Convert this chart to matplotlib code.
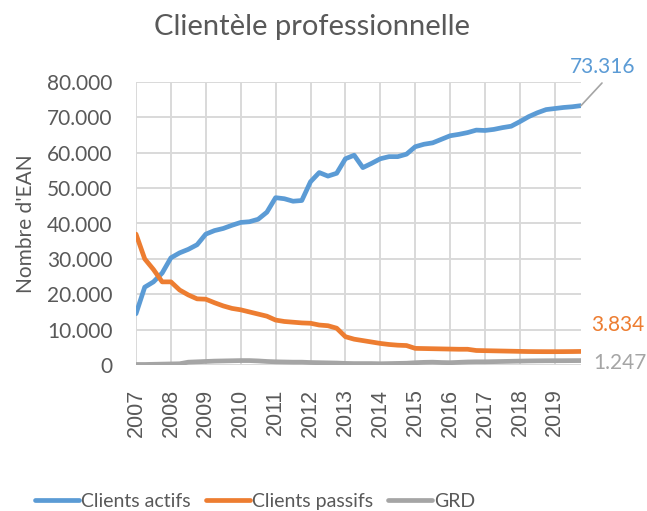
import matplotlib
matplotlib.use("Agg")
import matplotlib.pyplot as plt
from matplotlib.ticker import FuncFormatter

# quarterly values, 2007 Q1 -> 2019 Q4
years = list(range(2007, 2020))

clients_actifs = [
    14500, 22000, 23500, 26000, 30300, 31700, 32700, 34000,
    37000, 38000, 38600, 39500, 40300, 40500, 41200, 43200,
    47300, 47000, 46300, 46500, 51800, 54400, 53400, 54200,
    58300, 59300, 55800, 57000, 58300, 58900, 58900, 59600,
    61700, 62400, 62800, 63800, 64800, 65200, 65700, 66400,
    66300, 66600, 67100, 67500, 68800, 70200, 71300, 72200,
    72500, 72800, 73000, 73316,
]

clients_passifs = [
    37000, 30000, 27000, 23500, 23500, 21200, 19800, 18700,
    18600, 17600, 16700, 16000, 15600, 15000, 14400, 13800,
    12700, 12300, 12100, 11900, 11800, 11300, 11100, 10400,
    8000, 7300, 6900, 6500, 6100, 5800, 5600, 5500,
    4700, 4650, 4600, 4550, 4500, 4450, 4450, 4100,
    4050, 4000, 3950, 3900, 3850, 3800, 3780, 3770,
    3770, 3780, 3800, 3834,
]

grd = [
    150, 150, 200, 250, 300, 350, 800, 900,
    1000, 1100, 1150, 1200, 1250, 1250, 1150, 1000,
    900, 850, 800, 800, 700, 650, 600, 550,
    450, 400, 400, 400, 350, 400, 450, 500,
    650, 750, 800, 700, 650, 750, 850, 900,
    900, 950, 1000, 1050, 1100, 1150, 1180, 1200,
    1210, 1220, 1235, 1247,
]

BLUE = "#5B9BD5"
ORANGE = "#ED7D31"
GREY = "#A5A5A5"
TXT = "#595959"

plt.rcParams["font.family"] = ["Lato", "DejaVu Sans"]

fig = plt.figure(figsize=(6.47, 5.11), dpi=100)
ax = fig.add_axes([136 / 647, 1 - 365 / 511, (581 - 136) / 647, (365 - 82) / 511])

x = list(range(len(clients_actifs)))
lw = 3.4
ax.plot(x, clients_actifs, color=BLUE, lw=lw, solid_capstyle="round", label="Clients actifs")
ax.plot(x, clients_passifs, color=ORANGE, lw=lw, solid_capstyle="round", label="Clients passifs")
ax.plot(x, grd, color=GREY, lw=lw, solid_capstyle="round", label="GRD")

ax.set_xlim(0, len(x) - 1)
ax.set_ylim(0, 80000)
ax.set_xticks([4 * i for i in range(len(years))])
ax.set_xticklabels([str(y) for y in years], rotation=90, family="Liberation Sans",
                   fontsize=15.5, color=TXT)
ax.set_yticks(range(0, 80001, 10000))
ax.yaxis.set_major_formatter(FuncFormatter(lambda v, p: f"{int(v):,}".replace(",", ".")))
ax.tick_params(axis="y", labelsize=15, colors=TXT, length=0, pad=17)
ax.tick_params(axis="x", length=0, pad=17)

ax.grid(True, color="#D9D9D9", lw=1.4)
ax.set_axisbelow(True)
for s in ax.spines.values():
    s.set_visible(False)

ax.set_ylabel("Nombre d'EAN", fontsize=15, color=TXT, labelpad=8)

fig.text(312 / 647, 1 - 27 / 511, "Clientèle professionnelle", ha="center", va="center",
         fontsize=21, color=TXT)

# end labels
ax.annotate("", xy=(len(x) - 1, clients_actifs[-1]), xytext=(602, 511 - 83),
            textcoords="figure pixels",
            arrowprops=dict(arrowstyle="-", color=GREY, lw=1.2, shrinkA=0, shrinkB=0))
fig.text(603 / 647, 1 - 67 / 511, "73.316", ha="center", va="center", fontsize=15, color=BLUE)
fig.text(591 / 647, 1 - 325 / 511, "3.834", ha="left", va="center", fontsize=15, color=ORANGE)
fig.text(593 / 647, 1 - 363 / 511, "1.247", ha="left", va="center", fontsize=15, color=GREY)

leg = fig.legend(loc="center", bbox_to_anchor=(255 / 647, 1 - 501 / 511), ncol=3, frameon=False,
                 fontsize=14, handlelength=2.25, handletextpad=0.1, columnspacing=0.8,
                 labelcolor=TXT)
for h in leg.get_lines():
    h.set_solid_capstyle("round")

fig.savefig("out.png", dpi=100)
